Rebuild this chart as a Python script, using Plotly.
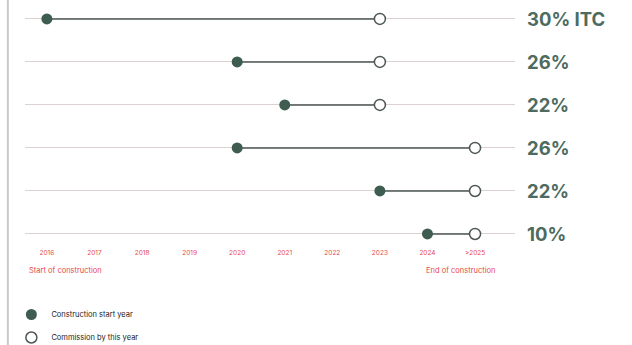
import plotly.graph_objects as go

year_labels = ["2016", "2017", "2018", "2019", "2020", "2021", "2022", "2023", "2024", ">2025"]
itc_labels = ["30% ITC", "26%", "22%", "26%", "22%", "10%"]
start_years = ["2016", "2020", "2021", "2020", "2023", "2024"]
commission_years = ["2023", "2023", "2023", ">2025", ">2025", ">2025"]

DARK = "#3f5c51"
LINE = "#4d5753"
RED = "#e8474c"
GRID = "#dcd0d0"

fig = go.Figure()
rows = list(range(len(itc_labels)))

for i in rows:
    fig.add_trace(go.Scatter(
        x=[start_years[i], commission_years[i]], y=[i, i],
        mode="lines", line=dict(color=LINE, width=1.5),
        showlegend=False, hoverinfo="skip"))

fig.add_trace(go.Scatter(
    x=start_years, y=rows, mode="markers", name="Construction start year",
    legendgroup="a",
    marker=dict(size=11, color=DARK, line=dict(width=0))))
fig.add_trace(go.Scatter(
    x=commission_years, y=rows, mode="markers", name="Commission by this year",
    legendgroup="b",
    marker=dict(size=11, color="white", line=dict(width=1.5, color=LINE))))

for i, lab in enumerate(itc_labels):
    fig.add_annotation(x=1, xref="paper", y=i, yref="y", text=lab, showarrow=False,
                       xanchor="left", xshift=10,
                       font=dict(family="Inter", size=18.5, color="#4d6b60", weight="bold"))

fig.add_annotation(x=0.004, xref="paper", y=-0.115, yref="paper", text="Start of construction",
                   showarrow=False, xanchor="left", yanchor="middle",
                   font=dict(family="Inter", size=7.5, color=RED))
fig.add_annotation(x=0.963, xref="paper", y=-0.115, yref="paper", text="End of construction",
                   showarrow=False, xanchor="right", yanchor="middle",
                   font=dict(family="Inter", size=7.5, color=RED))

fig.add_shape(type="line", xref="paper", yref="paper", x0=-0.035, x1=-0.035, y0=-0.5, y1=1.05,
              line=dict(color="#c8c8c8", width=2))

fig.update_xaxes(type="category", categoryorder="array", categoryarray=year_labels,
                 range=[-0.46, 9.84], showgrid=False, zeroline=False, showline=False,
                 ticks="", ticklabelstandoff=4,
                 tickfont=dict(family="Inter", size=6.5, color=RED))
fig.update_yaxes(range=[5.21, -0.44], tickvals=rows, showticklabels=False,
                 showgrid=True, gridcolor=GRID, gridwidth=1, zeroline=False, showline=False)

fig.update_layout(
    width=632, height=345,
    margin=dict(l=25, r=117, t=0, b=102, autoexpand=False),
    paper_bgcolor="white", plot_bgcolor="white",
    showlegend=True,
    legend=dict(xref="container", yref="container", x=0.018, y=1 - 300 / 345,
                xanchor="left", yanchor="top", tracegroupgap=4,
                font=dict(family="Inter", size=7.5, color="#222"),
                bgcolor="rgba(0,0,0,0)"),
)

fig.write_html("out.html")
